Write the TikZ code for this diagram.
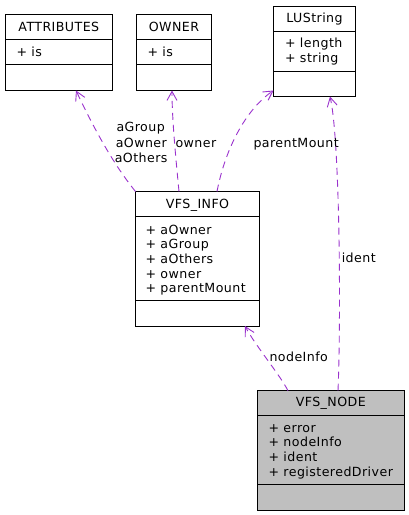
\documentclass[tikz,border=0pt]{standalone}
\usepackage{fontspec}
\setmainfont[LetterSpace=3.5]{DejaVu Sans}
\usetikzlibrary{arrows.meta}
\definecolor{edgepurple}{RGB}{154,50,205}
\definecolor{boxgray}{RGB}{191,191,191}
\tikzset{
  umlbox/.style={draw=black, line width=1pt, inner sep=0pt, outer sep=0pt, anchor=north west},
  divider/.style={draw=black, line width=1pt},
  txt/.style={inner sep=0pt, outer sep=0pt, font=\fontsize{12.6}{14.6}\selectfont},
  title/.style={txt, anchor=base},
  attr/.style={txt, anchor=base west},
  usage/.style={draw=edgepurple, line width=0.9pt, dash pattern=on 7pt off 5pt,
    arrows={-Straight Barb[length=9pt,width=10pt,line width=0.9pt]}},
}
\begin{document}
\begin{tikzpicture}[x=1pt,y=-1pt]
\useasboundingbox (0,0) rectangle (409,515);
% ATTRIBUTES
\node[umlbox, minimum width=107pt, minimum height=76pt] (attr) at (5.5,14.5) {};
\draw[divider] ([yshift=-25pt]attr.north west) -- ([yshift=-25pt]attr.north east);
\draw[divider] ([yshift=-50pt]attr.north west) -- ([yshift=-50pt]attr.north east);
\node[title] (attrT) at (58.8,31) {ATTRIBUTES};
\node[attr] (attrA) at (16.5,56) {+ is};
% OWNER
\node[umlbox, minimum width=75pt, minimum height=76pt] (owner) at (136.5,14.5) {};
\draw[divider] ([yshift=-25pt]owner.north west) -- ([yshift=-25pt]owner.north east);
\draw[divider] ([yshift=-50pt]owner.north west) -- ([yshift=-50pt]owner.north east);
\node[title] (ownerT) at (174,31) {OWNER};
\node[attr] (ownerA) at (147.5,56) {+ is};
% LUString
\node[umlbox, minimum width=82pt, minimum height=90pt] (lus) at (273.5,6.5) {};
\draw[divider] ([yshift=-25pt]lus.north west) -- ([yshift=-25pt]lus.north east);
\draw[divider] ([yshift=-65pt]lus.north west) -- ([yshift=-65pt]lus.north east);
\node[title] (lusT) at (314.5,22.5) {LUString};
\node[attr] (lusA1) at (285,47.5) {+ length};
\node[attr] (lusA2) at (285,62) {+ string};
% VFS_INFO
\node[umlbox, minimum width=124pt, minimum height=134.5pt] (info) at (135.5,191.5) {};
\draw[divider] ([yshift=-24.8pt]info.north west) -- ([yshift=-24.8pt]info.north east);
\draw[divider] ([yshift=-108.8pt]info.north west) -- ([yshift=-108.8pt]info.north east);
\node[title] (infoT) at (197.5,208.3) {VFS\_INFO};
\node[attr] (infoA1) at (145.5,234.3) {+ aOwner};
\node[attr] (infoA2) at (145.5,248.9) {+ aGroup};
\node[attr] (infoA3) at (145.5,263.5) {+ aOthers};
\node[attr] (infoA4) at (145.5,278.1) {+ owner};
\node[attr] (infoA5) at (145.5,292.7) {+ parentMount};
% VFS_NODE
\node[umlbox, fill=boxgray, minimum width=147pt, minimum height=119.5pt] (vnode) at (257.5,390.7) {};
\draw[divider] ([yshift=-25pt]vnode.north west) -- ([yshift=-25pt]vnode.north east);
\draw[divider] ([yshift=-93.6pt]vnode.north west) -- ([yshift=-93.6pt]vnode.north east);
\node[title] (vnodeT) at (330.8,406.7) {VFS\_NODE};
\node[attr] (vnodeA1) at (268.5,432.3) {+ error};
\node[attr] (vnodeA2) at (268.5,446.9) {+ nodeInfo};
\node[attr] (vnodeA3) at (268.5,461.5) {+ ident};
\node[attr] (vnodeA4) at (268.5,476.1) {+ registeredDriver};
% connectors
\draw[usage] (info.north west) .. controls (110,160) and (90,120) .. ([xshift=70.5pt]attr.south west);
\draw[usage] ([xshift=43.5pt]info.north west) .. controls (176,160) and (172,120) .. ([xshift=35.5pt]owner.south west);
\draw[usage] ([xshift=81.5pt]info.north west) .. controls (225,150) and (245,110) .. ([yshift=6pt]lus.south west);
\draw[usage] ([xshift=80.5pt]vnode.north west) .. controls (341,320) and (340,140) .. ([xshift=56.5pt]lus.south west);
\draw[usage] ([xshift=30.5pt]vnode.north west) .. controls (280,375) and (255,345) .. ([xshift=109.5pt]info.south west);
% labels
\node[attr] (lblG) at (116.5,131.5) {aGroup};
\node[attr] (lblO) at (115.8,147) {aOwner};
\node[attr] (lblT) at (114.8,162) {aOthers};
\node[attr] (lblOwner) at (175.5,147) {owner};
\node[attr] (lblPM) at (253.5,147) {parentMount};
\node[attr] (lblIdent) at (341.8,262) {ident};
\node[attr] (lblNI) at (269.5,361.7) {nodeInfo};
\end{tikzpicture}
\end{document}
